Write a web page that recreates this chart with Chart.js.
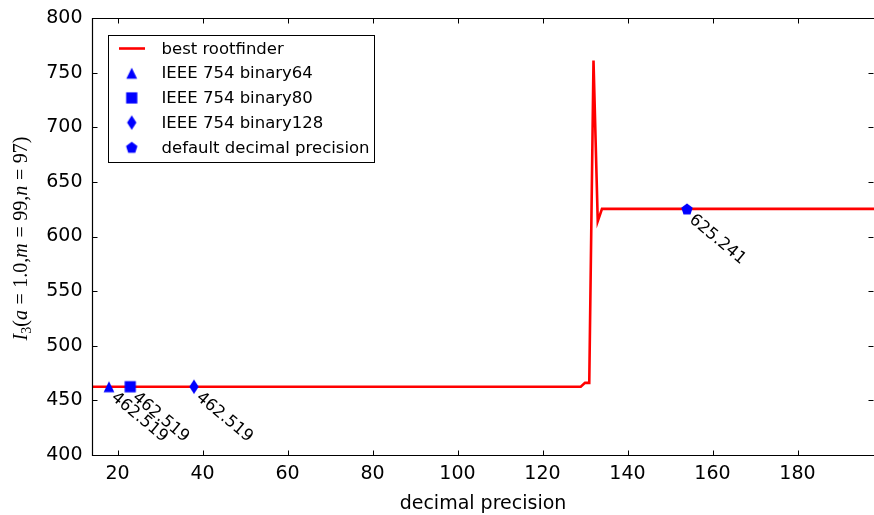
<!DOCTYPE html>
<html><head><meta charset="utf-8">
<script src="https://cdn.jsdelivr.net/npm/chart.js@4/dist/chart.umd.min.js"></script>
<style>html,body{margin:0;padding:0;background:#fff}#wrap{width:874px;height:515px;position:relative}</style>
</head><body><div id="wrap"><canvas id="c" width="874" height="515"></canvas></div>
<script>
// ---- data ----
const lineLabel = 'best rootfinder';
const lineX = [14, 129, 130, 131, 132, 133, 134, 198];
const lineY = [462.519, 462.519, 466, 466, 761, 614, 625.241, 625.241];
const markerLabels = ['IEEE 754 binary64', 'IEEE 754 binary80', 'IEEE 754 binary128', 'default decimal precision'];
const markerKinds = ['triangle', 'square', 'thinDiamond', 'pentagon'];
const markerX = [18, 23, 38, 154];
const markerY = [462.519, 462.519, 462.519, 625.241];
const xTicks = [20, 40, 60, 80, 100, 120, 140, 160, 180];
const yTicks = [400, 450, 500, 550, 600, 650, 700, 750, 800];
const xRange = [14, 198];
const yRange = [400, 800];
const xTitle = 'decimal precision';

// ---- styling ----
const RED = '#ff0000', BLUE = '#0000ff';
const SMALL_FONT = '16.5px "DejaVu Sans"';

function makeMarker(kind) {
  const c = document.createElement('canvas');
  c.width = 18; c.height = 18;
  const g = c.getContext('2d');
  const cx = 9, cy = 9;
  g.fillStyle = BLUE;
  g.beginPath();
  if (kind === 'triangle') {
    const s = 5.4;
    g.moveTo(cx, cy - s); g.lineTo(cx + s, cy + s); g.lineTo(cx - s, cy + s);
  } else if (kind === 'square') {
    const s = 5.6;
    g.rect(cx - s, cy - s, 2 * s, 2 * s);
  } else if (kind === 'thinDiamond') {
    const w = 4.7, h = 7.2;
    g.moveTo(cx, cy - h); g.lineTo(cx + w, cy); g.lineTo(cx, cy + h); g.lineTo(cx - w, cy);
  } else if (kind === 'pentagon') {
    const r = 6.0;
    for (let k = 0; k < 5; k++) {
      const a = -Math.PI / 2 + k * 2 * Math.PI / 5;
      const px = cx + r * Math.cos(a), py = cy + 0.6 + r * Math.sin(a);
      if (k === 0) g.moveTo(px, py); else g.lineTo(px, py);
    }
  }
  g.closePath();
  g.fill();
  return c;
}
const markerImgs = markerKinds.map(makeMarker);

const datasets = markerLabels.map((lab, i) => ({
  label: lab,
  data: [{ x: markerX[i], y: markerY[i] }],
  showLine: false,
  pointStyle: markerImgs[i],
  pointRadius: 7,
  backgroundColor: BLUE,
  borderColor: BLUE,
  order: 0
}));
datasets.push({
  label: lineLabel,
  data: lineX.map((x, i) => ({ x: x, y: lineY[i] })),
  borderColor: RED,
  borderWidth: 2.6,
  pointRadius: 0,
  tension: 0,
  fill: false,
  order: 1
});

const framePlugin = {
  id: 'frame',
  afterDraw(chart) {
    const ctx = chart.ctx, a = chart.chartArea;
    const xs = chart.scales.x, ys = chart.scales.y;
    ctx.save();
    ctx.strokeStyle = '#000';
    ctx.lineWidth = 1.2;
    const L = Math.round(a.left) + 0.5, R = Math.round(a.right) + 0.5;
    const T = Math.round(a.top) + 0.5, B = Math.round(a.bottom) + 0.5;
    ctx.beginPath();
    ctx.moveTo(R, T); ctx.lineTo(L, T); ctx.lineTo(L, B); ctx.lineTo(R, B);
    ctx.stroke();
    ctx.lineWidth = 1;
    ctx.beginPath();
    xTicks.forEach(v => {
      const px = Math.round(xs.getPixelForValue(v)) + 0.5;
      ctx.moveTo(px, B); ctx.lineTo(px, B - 5);
      ctx.moveTo(px, T); ctx.lineTo(px, T + 5);
    });
    yTicks.forEach(v => {
      const py = Math.round(ys.getPixelForValue(v)) + 0.5;
      ctx.moveTo(L, py); ctx.lineTo(L + 5, py);
      ctx.moveTo(R - 1, py); ctx.lineTo(R - 6, py);
    });
    ctx.stroke();

    // legend
    const lx = 108.5, ly = 35.5, lw = 266, lh = 127;
    ctx.fillStyle = '#fff';
    ctx.fillRect(lx, ly, lw, lh);
    ctx.strokeStyle = '#000';
    ctx.lineWidth = 1;
    ctx.strokeRect(lx, ly, lw, lh);
    const rows = [lineLabel].concat(markerLabels);
    ctx.font = SMALL_FONT;
    ctx.textBaseline = 'middle';
    ctx.textAlign = 'left';
    rows.forEach((t, i) => {
      const cy = 48.5 + i * 24.7;
      if (i === 0) {
        ctx.strokeStyle = RED; ctx.lineWidth = 2.6;
        ctx.beginPath(); ctx.moveTo(119, cy); ctx.lineTo(145, cy); ctx.stroke();
      } else {
        const img = markerImgs[i - 1];
        ctx.drawImage(img, 131.7 - img.width / 2, cy - img.height / 2);
      }
      ctx.fillStyle = '#000';
      ctx.fillText(t, 161.5, cy + 1);
    });

    // y title (math style)
    const segs = [
      { t: 'I', it: true }, { t: '3', sub: true }, { t: '(' }, { t: 'a', it: true }, { t: '=', eq: true },
      { t: '1.0,' }, { t: 'm', it: true }, { t: '=', eq: true }, { t: '99,' }, { t: 'n', it: true },
      { t: '=', eq: true }, { t: '97)' }
    ];
    const fs = 20;
    const fontOf = s => (s.it ? 'italic ' : '') + (s.sub ? fs * 0.7 : fs) + 'px "Liberation Serif"';
    let total = 0;
    const widths = segs.map(s => {
      ctx.font = fontOf(s);
      const w = ctx.measureText(s.t).width + (s.eq ? fs * 0.56 : 0);
      total += w; return w;
    });
    ctx.translate(21, (a.top + a.bottom) / 2 + 2);
    ctx.rotate(-Math.PI / 2);
    ctx.fillStyle = '#000';
    ctx.textBaseline = 'alphabetic';
    let x = -total / 2;
    segs.forEach((s, i) => {
      ctx.font = fontOf(s);
      ctx.fillText(s.t, x + (s.eq ? fs * 0.28 : 0), 6 + (s.sub ? 4 : 0));
      x += widths[i];
    });
    ctx.restore();
  },
  afterDatasetsDraw(chart) {
    const ctx = chart.ctx;
    ctx.save();
    ctx.font = SMALL_FONT;
    ctx.fillStyle = '#000';
    ctx.textBaseline = 'alphabetic';
    ctx.textAlign = 'left';
    markerLabels.forEach((_, i) => {
      const el = chart.getDatasetMeta(i).data[0];
      ctx.save();
      ctx.translate(el.x + 1.5, el.y + 12);
      ctx.rotate(40 * Math.PI / 180);
      ctx.fillText(markerY[i].toFixed(3), 0, 0);
      ctx.restore();
    });
    ctx.restore();
  }
};

new Chart(document.getElementById('c'), {
  type: 'line',
  data: { datasets: datasets },
  options: {
    responsive: false,
    devicePixelRatio: 1,
    animation: false,
    layout: { autoPadding: false, padding: { top: 18, right: 0, left: 0, bottom: 0 } },
    plugins: { legend: { display: false }, tooltip: { enabled: false } },
    scales: {
      x: {
        type: 'linear', min: xRange[0], max: xRange[1],
        grid: { display: false, drawTicks: false },
        border: { display: false },
        afterBuildTicks: s => { s.ticks = xTicks.map(v => ({ value: v })); },
        afterFit: s => { s.height = 60; s.paddingLeft = 0; s.paddingRight = 0; },
        ticks: { font: { family: 'DejaVu Sans', size: 19 }, color: '#000', padding: 8, maxRotation: 0, autoSkip: false },
        title: { display: true, text: xTitle, color: '#000', font: { family: 'DejaVu Sans', size: 19 }, padding: { top: 2, bottom: 0 } }
      },
      y: {
        type: 'linear', min: yRange[0], max: yRange[1],
        grid: { display: false, drawTicks: false },
        border: { display: false },
        afterBuildTicks: s => { s.ticks = yTicks.map(v => ({ value: v })); },
        afterFit: s => { s.width = 92; s.paddingTop = 0; s.paddingBottom = 0; },
        ticks: { font: { family: 'DejaVu Sans', size: 19 }, color: '#000', padding: 9.5, autoSkip: false }
      }
    }
  },
  plugins: [framePlugin]
});
</script>
</body></html>
